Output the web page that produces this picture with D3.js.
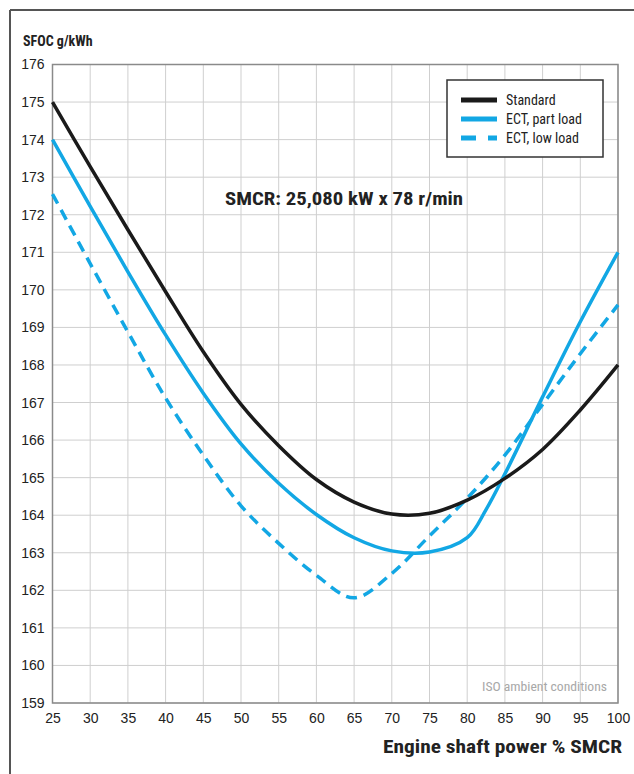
<!DOCTYPE html>
<html lang="en">
<head>
  <meta charset="utf-8">
  <title>SFOC curves</title>
  <script src="https://d3js.org/d3.v7.min.js"></script>
  <style>
    body {
      margin: 0;
      background: #fff;
    }
    svg {
      display: block;
      font-family: "Liberation Sans Narrow", "Roboto Condensed", Roboto, sans-serif;
    }
    .grid line {
      stroke: #cfcfcf;
      stroke-width: 1;
    }
    .tick-label {
      font-size: 14px;
      fill: #222;
    }
  </style>
</head>
<body>
  <div id="chart"></div>
  <script>
    // Data
    var loads = [25, 30, 35, 40, 45, 50, 55, 60, 65, 70, 75, 80, 85, 90, 95, 100];
    var standard = [175.0, 173.28, 171.6, 169.95, 168.35, 166.95, 165.85, 164.95, 164.35, 164.03, 164.05, 164.4, 164.98, 165.75, 166.8, 168.0];
    var partLoadX = [25, 30, 35, 40, 45, 50, 55, 60, 65, 70, 75, 80, 82.5, 85, 90, 95, 100];
    var partLoad = [174.0, 172.22, 170.48, 168.8, 167.25, 165.9, 164.85, 164.02, 163.4, 163.05, 163.02, 163.4, 164.15, 165.1, 167.15, 169.15, 171.0];
    var lowLoad = [172.55, 170.7, 168.88, 167.12, 165.6, 164.25, 163.25, 162.4, 161.8, 162.45, 163.45, 164.45, 165.6, 166.95, 168.3, 169.6];
    var xTicks = d3.range(25, 101, 5);
    var yTicks = d3.range(159, 177, 1);
    var seriesNames = ["Standard", "ECT, part load", "ECT, low load"];

    var width = 634, height = 774;
    var blue = "#12a7e4";

    var svg = d3.select("#chart")
      .append("svg")
      .attr("width", width)
      .attr("height", height);

    // outer frame (top and left edges only are visible in the reference)
    svg.append("line").attr("x1", 10).attr("x2", width).attr("y1", 10).attr("y2", 10)
      .attr("stroke", "#555").attr("stroke-width", 2);
    svg.append("line").attr("x1", 10).attr("x2", 10).attr("y1", 10).attr("y2", height)
      .attr("stroke", "#555").attr("stroke-width", 2);

    // scales
    var x = d3.scaleLinear().domain([25, 100]).range([52.5, 618]);
    var y = d3.scaleLinear().domain([159, 176]).range([703, 64.5]);

    // grid
    var grid = svg.append("g").attr("class", "grid");
    grid.selectAll(".v").data(xTicks).enter().append("line")
      .attr("x1", function(d) { return x(d); })
      .attr("x2", function(d) { return x(d); })
      .attr("y1", y(176)).attr("y2", y(159));
    grid.selectAll(".h").data(yTicks).enter().append("line")
      .attr("x1", x(25)).attr("x2", x(100))
      .attr("y1", function(d) { return y(d); })
      .attr("y2", function(d) { return y(d); });

    // plot frame
    svg.append("rect")
      .attr("x", x(25)).attr("y", y(176))
      .attr("width", x(100) - x(25)).attr("height", y(159) - y(176))
      .attr("fill", "none").attr("stroke", "#8a8a8a").attr("stroke-width", 1.5);

    // axes (labels only, using d3 axis generators)
    var yAxis = svg.append("g")
      .attr("transform", "translate(" + x(25) + ",0)")
      .call(d3.axisLeft(y).tickValues(yTicks).tickSize(0).tickPadding(8).tickFormat(d3.format("d")));
    var xAxis = svg.append("g")
      .attr("transform", "translate(0," + y(159) + ")")
      .call(d3.axisBottom(x).tickValues(xTicks).tickSize(0).tickPadding(10).tickFormat(d3.format("d")));
    [xAxis, yAxis].forEach(function(ax) {
      ax.select(".domain").remove();
      ax.selectAll("text")
        .attr("class", "tick-label")
        .style("font-family", null)
        .attr("fill", "#222");
    });

    // curves
    var line = d3.line()
      .x(function(d) { return x(d[0]); })
      .y(function(d) { return y(d[1]); })
      .curve(d3.curveCatmullRom.alpha(0.5));

    function pairs(xs, ys) {
      return xs.map(function(v, i) { return [v, ys[i]]; });
    }

    svg.append("path")
      .datum(pairs(loads, lowLoad))
      .attr("d", line)
      .attr("fill", "none")
      .attr("stroke", blue)
      .attr("stroke-width", 3.5)
      .attr("stroke-dasharray", "11,7");

    svg.append("path")
      .datum(pairs(partLoadX, partLoad))
      .attr("d", line)
      .attr("fill", "none")
      .attr("stroke", blue)
      .attr("stroke-width", 3.5);

    svg.append("path")
      .datum(pairs(loads, standard))
      .attr("d", line)
      .attr("fill", "none")
      .attr("stroke", "#1a1a1a")
      .attr("stroke-width", 3.5);

    // legend
    var legend = svg.append("g");
    legend.append("rect")
      .attr("x", 447).attr("y", 80).attr("width", 156).attr("height", 77)
      .attr("fill", "#fff").attr("stroke", "#333").attr("stroke-width", 1.5);
    var legendStyles = [
      { color: "#1a1a1a", dash: null },
      { color: blue, dash: null },
      { color: blue, dash: "15,12" }
    ];
    seriesNames.forEach(function(name, i) {
      var ly = 100 + i * 19;
      legend.append("line")
        .attr("x1", 461).attr("x2", 497).attr("y1", ly).attr("y2", ly)
        .attr("stroke", legendStyles[i].color)
        .attr("stroke-width", 5)
        .attr("stroke-dasharray", legendStyles[i].dash);
      legend.append("text")
        .attr("x", 506).attr("y", ly + 5)
        .attr("font-size", 14).attr("fill", "#222")
        .text(name);
    });

    // titles and notes
    svg.append("text")
      .attr("x", 23).attr("y", 46)
      .attr("font-size", 14).attr("font-weight", "bold").attr("fill", "#222")
      .text("SFOC g/kWh");

    svg.append("text")
      .attr("x", 225).attr("y", 205)
      .attr("font-size", 19).attr("font-weight", "bold").attr("fill", "#222")
      .attr("textLength", 238).attr("lengthAdjust", "spacingAndGlyphs")
      .text("SMCR: 25,080 kW x 78 r/min");

    svg.append("text")
      .attr("x", 622).attr("y", 753)
      .attr("text-anchor", "end")
      .attr("font-size", 19).attr("font-weight", "bold").attr("fill", "#222")
      .attr("textLength", 239).attr("lengthAdjust", "spacingAndGlyphs")
      .text("Engine shaft power % SMCR");

    svg.append("text")
      .attr("x", 607).attr("y", 691)
      .attr("text-anchor", "end")
      .attr("font-size", 12).attr("fill", "#a8a8a8")
      .attr("textLength", 125).attr("lengthAdjust", "spacingAndGlyphs")
      .text("ISO ambient conditions");
  </script>
</body>
</html>
